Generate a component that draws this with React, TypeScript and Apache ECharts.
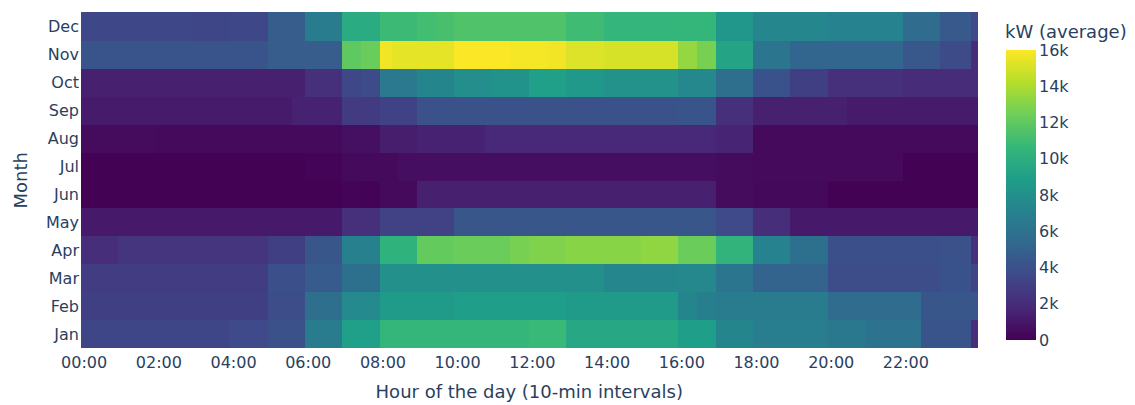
import React, { useEffect, useRef } from "react";
import * as echarts from "echarts";

// Month categories (bottom to top)
const MONTHS = ["Jan", "Feb", "Mar", "Apr", "May", "Jun", "Jul", "Aug", "Sep", "Oct", "Nov", "Dec"];

// Each month: runs of [number of 10-min slots, average kW]
const jan: [number, number][] = [[24, 3400], [6, 3600], [6, 4000], [6, 6600], [6, 9000], [24, 10600], [6, 10800], [18, 9500], [6, 8900], [6, 7300], [12, 6800], [6, 6400], [9, 6000], [8, 4200], [1, 2100]];
const feb: [number, number][] = [[30, 3000], [6, 3800], [6, 5800], [6, 7600], [12, 8700], [18, 8900], [18, 8700], [3, 7300], [3, 6900], [18, 6700], [15, 5600], [9, 4300]];
const mar: [number, number][] = [[30, 2900], [6, 3900], [6, 4600], [6, 5900], [36, 8000], [12, 7400], [6, 7500], [6, 6300], [12, 5100], [18, 3800], [5, 4100], [1, 3300]];
const apr: [number, number][] = [[6, 2100], [24, 2400], [6, 3000], [6, 4300], [6, 7000], [6, 10300], [6, 12100], [9, 12300], [3, 12700], [6, 12900], [12, 13100], [6, 13300], [6, 12300], [6, 10400], [6, 7100], [6, 5900], [18, 3900], [5, 4000], [1, 2200]];
const may: [number, number][] = [[42, 1100], [6, 2200], [12, 3100], [42, 4300], [6, 3600], [6, 2100], [30, 1100]];
const jun: [number, number][] = [[42, 50], [3, 200], [3, 100], [6, 400], [48, 1400], [6, 500], [12, 350], [24, 50]];
const jul: [number, number][] = [[36, 50], [6, 200], [9, 400], [51, 600], [6, 500], [24, 400], [12, 50]];
const aug: [number, number][] = [[12, 500], [30, 400], [6, 700], [6, 1300], [11, 1500], [37, 1800], [6, 1600], [36, 400]];
const sep: [number, number][] = [[34, 1200], [8, 1500], [6, 2800], [6, 3200], [42, 4000], [6, 4200], [6, 2200], [15, 1400], [21, 1200]];
const oct: [number, number][] = [[36, 1400], [6, 2200], [3, 3500], [3, 3700], [6, 6500], [6, 7300], [6, 7900], [6, 8200], [6, 9000], [6, 8600], [12, 8100], [6, 7500], [6, 5800], [6, 4100], [6, 3000], [12, 2200], [12, 2000]];
const nov: [number, number][] = [[30, 4200], [12, 4700], [3, 12000], [3, 12300], [2, 15700], [10, 15400], [9, 15950], [6, 15800], [3, 15700], [6, 15200], [12, 15000], [3, 13400], [3, 12700], [6, 9300], [6, 6300], [18, 5200], [6, 4400], [5, 3700], [1, 2000]];
const dec: [number, number][] = [[18, 3500], [6, 3400], [6, 3500], [6, 4700], [6, 6600], [6, 9800], [6, 10900], [3, 11100], [3, 11300], [18, 11500], [6, 11000], [12, 10500], [6, 10600], [6, 8400], [12, 7400], [12, 7100], [6, 5600], [5, 4500], [1, 3600]];

const MONTH_RUNS = [jan, feb, mar, apr, may, jun, jul, aug, sep, oct, nov, dec];

// Colour scale range and colorbar ticks
const Z_MIN = 0;
const Z_MAX = 16000;
const CBAR_INTERVAL = 2000;

const VIRIDIS = ["#440154", "#482878", "#3e4989", "#31688e", "#26828e", "#1f9e89", "#35b779", "#6ece58", "#b5de2b", "#fde725"];

const FONT = "DejaVu Sans";
const TXT = "#2a3f5f";

function slotLabel(i: number): string {
  const h = Math.floor(i / 6);
  const m = (i % 6) * 10;
  return String(h).padStart(2, "0") + ":" + String(m).padStart(2, "0");
}

export default function App() {
  const ref = useRef<HTMLDivElement>(null);

  useEffect(() => {
    document.body.style.margin = "0";
    const el = ref.current!;
    const chart = echarts.init(el, null, { renderer: "svg" });

    const slots: string[] = [];
    for (let i = 0; i < 144; i++) slots.push(slotLabel(i));

    const data: [number, number, number][] = [];
    MONTH_RUNS.forEach((runs, yi) => {
      let x = 0;
      runs.forEach(([n, v]) => {
        for (let k = 0; k < n; k++) data.push([x++, yi, v]);
      });
    });

    const stops = VIRIDIS.map((c, i) => ({ offset: i / (VIRIDIS.length - 1), color: c }));

    chart.setOption({
      animation: false,
      textStyle: { fontFamily: FONT, color: TXT },
      grid: [
        { left: 81, top: 12.5, width: 896.5, height: 337.2 },
        { left: 1006, top: 50, width: 30, height: 290 },
      ],
      xAxis: [
        {
          type: "category",
          gridIndex: 0,
          data: slots,
          axisTick: { show: false },
          axisLine: { show: false },
          splitLine: { show: false },
          axisLabel: { interval: 11, fontSize: 16, color: TXT, margin: 6, fontFamily: FONT },
          name: "Hour of the day (10-min intervals)",
          nameLocation: "middle",
          nameGap: 34,
          nameTextStyle: { fontSize: 18, color: TXT, fontFamily: FONT },
        },
        { type: "value", gridIndex: 1, show: false, min: 0, max: 1 },
      ],
      yAxis: [
        {
          type: "category",
          gridIndex: 0,
          data: MONTHS,
          axisTick: { show: false },
          axisLine: { show: false },
          splitLine: { show: false },
          axisLabel: { fontSize: 16, color: TXT, margin: 2, fontFamily: FONT },
          name: "Month",
          nameLocation: "middle",
          nameGap: 52,
          nameRotate: 90,
          nameTextStyle: { fontSize: 18, color: TXT, fontFamily: FONT },
        },
        {
          type: "value",
          gridIndex: 1,
          position: "right",
          min: Z_MIN,
          max: Z_MAX,
          interval: CBAR_INTERVAL,
          axisLine: { show: false },
          axisTick: { show: false },
          splitLine: { show: false },
          axisLabel: {
            fontSize: 16,
            color: TXT,
            margin: 3,
            fontFamily: FONT,
            formatter: (v: number) => (v === 0 ? "0" : v / 1000 + "k"),
          },
        },
      ],
      visualMap: {
        show: false,
        type: "continuous",
        min: Z_MIN,
        max: Z_MAX,
        dimension: 2,
        seriesIndex: 0,
        inRange: { color: VIRIDIS },
      },
      graphic: [
        {
          type: "rect",
          shape: { x: 1006, y: 50, width: 30, height: 290 },
          style: { fill: new echarts.graphic.LinearGradient(0, 1, 0, 0, stops) },
          silent: true,
        },
        {
          type: "text",
          x: 1005,
          y: 31.5,
          style: { text: "kW (average)", fontSize: 18, fontFamily: FONT, fill: TXT, verticalAlign: "middle", align: "left" },
          silent: true,
        },
      ],
      series: [
        {
          type: "heatmap",
          xAxisIndex: 0,
          yAxisIndex: 0,
          data,
          itemStyle: { borderWidth: 0 },
          emphasis: { disabled: true },
        },
      ],
    });

    return () => chart.dispose();
  }, []);

  return (
    <>
      <style>{`.hm-chart svg path { shape-rendering: crispEdges; }`}</style>
      <div className="hm-chart" ref={ref} style={{ width: 1135, height: 405 }} />
    </>
  );
}
